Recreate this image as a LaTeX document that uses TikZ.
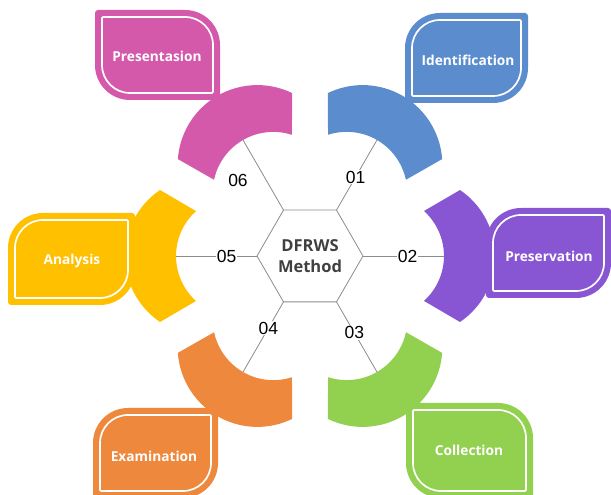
\documentclass[tikz,border=0pt]{standalone}
\usepackage{fontspec}
\setmainfont{Liberation Sans}
\newfontfamily\boxfont{Open Sans}
\usetikzlibrary{calc}

\definecolor{cMag}{HTML}{D459AB}
\definecolor{cBlue}{HTML}{5B8DCE}
\definecolor{cPurple}{HTML}{8855D3}
\definecolor{cGreen}{HTML}{92D050}
\definecolor{cOrange}{HTML}{ED883D}
\definecolor{cYellow}{HTML}{FFC000}
\definecolor{cHub}{HTML}{404040}
\definecolor{cLine}{HTML}{8C8C8C}

% leaf-shaped box: style, x1, y1, x2, y2, radii TL, TR, BR, BL
\newcommand{\leafshape}[9]{%
  \path[#1] (#2,{#5-#6}) arc[start angle=180,end angle=90,radius=#6]
    -- ({#4-#7},#5) arc[start angle=90,end angle=0,radius=#7]
    -- (#4,{#3+#8}) arc[start angle=0,end angle=-90,radius=#8]
    -- ({#2+#9},#3) arc[start angle=270,end angle=180,radius=#9] -- cycle;}

% filled leaf with inner white outline, type A (TL/BR rounded) or B (TR/BL rounded)
\newcommand{\leafA}[5]{%
  \leafshape{fill=#5}{#1}{#2}{#3}{#4}{35}{3}{35}{3}
  \leafshape{draw=white,line width=1.7}{#1+7}{#2+7}{#3-7}{#4-7}{28}{1}{28}{1}}
\newcommand{\leafB}[5]{%
  \leafshape{fill=#5}{#1}{#2}{#3}{#4}{3}{35}{3}{35}
  \leafshape{draw=white,line width=1.7}{#1+7}{#2+7}{#3-7}{#4-7}{1}{28}{1}{28}}

% thick curved segment around the hub, pointing in direction #1
\newcommand{\arcpiece}[2]{%
  \begin{scope}[shift={(hub)}, rotate=#1]
    \fill[#2] (114,45) arc[start angle=47.9,end angle=-47.9,radius=60.6]
      -- (150,-66) arc[start angle=-55.9,end angle=55.9,radius=79.7] -- cycle;
  \end{scope}}

\tikzset{
  numlabel/.style={fill=white, inner sep=1pt, text=black,
    font=\fontsize{17.5}{18}\selectfont},
  boxtext/.style={text=white, inner sep=0pt,
    font=\boxfont\bfseries\fontsize{13.7}{15}\selectfont},
  hubline/.style={draw=cLine, line width=0.8},
}

\begin{document}
\begin{tikzpicture}[x=1pt,y=1pt]
\useasboundingbox (0,0) rectangle (611,495);
\fill[white] (0,0) rectangle (611,495);

\coordinate (hub) at (310,239);

% curved segments
\arcpiece{60}{cBlue}
\arcpiece{0}{cPurple}
\arcpiece{-60}{cGreen}
\arcpiece{-120}{cOrange}
\arcpiece{180}{cYellow}
\arcpiece{120}{cMag}

% hexagon corners and segment inner midpoints
\foreach \k/\a in {1/60,2/0,3/-60,4/-120,5/180,6/120}{
  \coordinate (v\k) at ($(hub)+(\a:53)$);
  \coordinate (p\k) at ($(hub)+(\a:134)$);
}
\draw[hubline] (v1) -- (v2) -- (v3) -- (v4) -- (v5) -- (v6) -- cycle;

\node[align=center, text=cHub, inner sep=0pt,
  font=\boxfont\bfseries\fontsize{16.5}{21.5}\selectfont] (center) at (hub) {DFRWS\\Method};

% spokes with step numbers
\draw[hubline] (v1) -- (p1) node[numlabel, pos=0.47] (n1) {01};
\draw[hubline] (v2) -- (p2) node[numlabel, pos=0.55] (n2) {02};
\draw[hubline] (v3) -- (p3) node[numlabel, pos=0.44] (n3) {03};
\draw[hubline] (v4) -- (p4) node[numlabel, pos=0.375] (n4) {04};
\draw[hubline] (v5) -- (p5) node[numlabel, pos=0.375] (n5) {05};
\draw[hubline] (v6) -- (p6);
\node[numlabel] (n6) at (238,315) {06};

% stage boxes
\leafB{95}{395}{220}{485}{cMag}
\leafA{405}{392}{528}{482}{cBlue}
\leafA{486}{197}{611}{287}{cPurple}
\leafB{406}{-3}{533}{92}{cGreen}
\leafA{93}{-3}{218}{87}{cOrange}
\leafA{8}{190}{135}{282}{cYellow}

\node[boxtext] (pres) at (157,439) {Presentasion};
\node[boxtext] (ident) at (468,435) {Identification};
\node[boxtext] (preserv) at (549,239) {Preservation};
\node[boxtext] (collect) at (469,45) {Collection};
\node[boxtext] (exam) at (154,39) {Examination};
\node[boxtext] (anal) at (72,234) {Analysis};
\end{tikzpicture}
\end{document}
